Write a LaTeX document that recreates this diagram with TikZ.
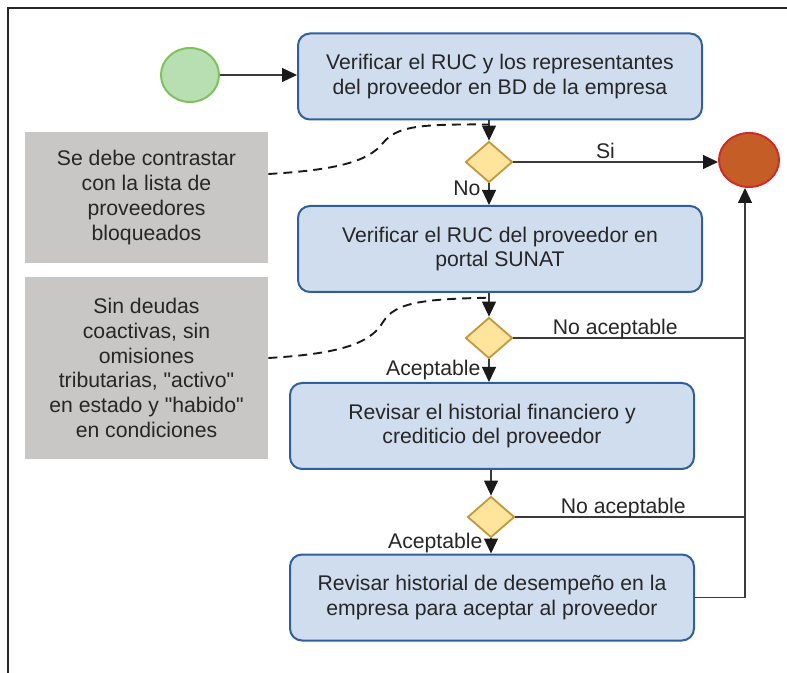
\documentclass[tikz,border=0pt]{standalone}
\usepackage{fontspec}
\newfontfamily\arialsans{Liberation Sans}
\usepackage{tikz}
\usetikzlibrary{positioning, shapes.geometric, arrows.meta}

\definecolor{framecol}{HTML}{262626}
\definecolor{txt}{HTML}{262626}
\definecolor{taskfill}{HTML}{D0DDEE}
\definecolor{taskline}{HTML}{2F5F9C}
\definecolor{startfill}{HTML}{B8DFB1}
\definecolor{startline}{HTML}{7DC35B}
\definecolor{stopfill}{HTML}{C55E26}
\definecolor{stopline}{HTML}{D22B27}
\definecolor{gatefill}{HTML}{FFE49C}
\definecolor{gateline}{HTML}{C4973A}
\definecolor{notefill}{HTML}{C8C7C6}
\definecolor{linecol}{HTML}{3A3A3A}
\definecolor{arrowcol}{HTML}{1A1A1A}

\tikzset{
	task/.style={rectangle, draw=taskline, fill=taskfill, line width=1pt, rounded corners=6pt,
		minimum width=202pt, minimum height=43pt, align=center},
	note/.style={rectangle, fill=notefill, minimum width=121.5pt, inner sep=0pt, align=center},
	gate/.style={diamond, draw=gateline, fill=gatefill, line width=0.9pt,
		minimum width=23.5pt, minimum height=20.5pt, inner sep=0pt},
	start/.style={ellipse, draw=startline, fill=startfill, line width=1pt,
		minimum width=29pt, minimum height=27pt, inner sep=0pt},
	stop/.style={ellipse, draw=stopline, fill=stopfill, line width=1pt,
		minimum width=30pt, minimum height=27pt, inner sep=0pt},
	flow/.style={draw=linecol, line width=0.6pt, -{Triangle[length=7.5pt, width=7pt, color=arrowcol]}},
	line/.style={draw=linecol, line width=0.6pt},
	assoc/.style={draw=arrowcol, line width=0.95pt, dash pattern=on 4.5pt off 3pt},
	lbl/.style={text depth=0pt, inner xsep=4pt, inner ysep=1.5pt},
}

\begin{document}
\begin{tikzpicture}[x=0.5pt, y=-0.5pt, font=\arialsans\fontsize{10.6}{12.4}\selectfont, text=txt]
		\useasboundingbox (0,0) rectangle (787,673);
		\draw[line width=1pt, draw=framecol] (787,8) -- (8,8) -- (8,673);

		\node[start] (s0) at (190,75) {};
		\node[task] (t1) at (500,76.5) {Verificar el RUC y los representantes\\del proveedor en BD de la empresa};
		\node[gate] (g1) at (489,162) {};
		\node[stop] (s1) at (749,160) {};
		\node[task] (t2) at (500,249) {Verificar el RUC del proveedor en\\portal SUNAT};
		\node[gate] (g2) at (489,338) {};
		\node[task] (t3) at (492,426) {Revisar el historial financiero y\\crediticio del proveedor};
		\node[gate] (g3) at (491,517) {};
		\node[task] (t4) at (492,597.5) {Revisar historial de desempeño en la\\empresa para aceptar al proveedor};
		\node[note, minimum height=65.5pt] (n1) at (146.5,197.5) {Se debe contrastar\\con la lista de\\proveedores\\bloqueados};
		\node[note, minimum height=91pt] (n2) at (146.5,368) {Sin deudas\\coactivas, sin\\omisiones\\tributarias, "activo"\\en estado y "habido"\\en condiciones};
		\coordinate (rail) at (745,0);

		\draw[flow]	(s0) -- (s0 -| t1.west);
		\draw[flow]	(g1 |- t1.south) -- coordinate[pos=0.2] (a1) (g1.north);
		\draw[flow]	(g1.east) -- node[lbl, above, pos=0.45] {Si} (g1.east -| s1.west);
		\draw[flow]	(g1.south) -- node[lbl, left, pos=0.23] {No} (g1 |- t2.north);
		\draw[flow]	(g2 |- t2.south) -- coordinate[pos=0.2] (a2) (g2.north);
		\draw[flow]	(g2.south) -- node[lbl, left, pos=0.36] {Aceptable} (g2 |- t3.north);
		\draw[flow]	(g3 |- t3.south) -- (g3.north);
		\draw[flow]	(g3.south) -- node[lbl, left, pos=0.14] {Aceptable} (g3 |- t4.north);
		\draw[line]	(g2.east) -- node[lbl, above, pos=0.44] {No aceptable} (g2.east -| rail);
		\draw[line]	(g3.east) -- node[lbl, above, pos=0.47] {No aceptable} (g3.east -| rail);
		\draw[flow]	(t4.east) -| (rail |- s1.south);

		\draw[assoc] ([yshift=11.75pt]n1.east) .. controls (335,170) and (368,162) .. (383,143)
			.. controls (397,126) and (420,124) .. (a1);
		\draw[assoc] ([yshift=5pt]n2.east) .. controls (335,354) and (370,345) .. (383,322)
			.. controls (395,303) and (420,299) .. (a2);
	\end{tikzpicture}
\end{document}
